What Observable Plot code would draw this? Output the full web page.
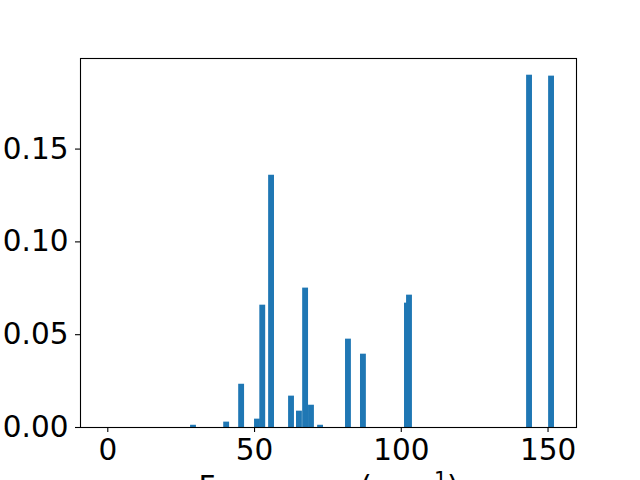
<!DOCTYPE html>
<html>
<head>
<meta charset="utf-8">
<script src="https://cdn.jsdelivr.net/npm/d3@7"></script>
<script src="https://cdn.jsdelivr.net/npm/@observablehq/plot@0.6"></script>
<style>
  html, body { margin: 0; padding: 0; background: white; }
  svg { display: block; }
</style>
</head>
<body>
<div id="chart"></div>
<script>
const freqs = [29.2, 40.5, 45.6, 51.0, 52.8, 55.8, 62.6, 65.3, 67.4, 69.4, 72.5, 82.0, 87.1, 102.1, 102.8, 143.7, 151.2];
const weights = [0.0012, 0.0029, 0.0233, 0.0045, 0.0659, 0.1359, 0.0169, 0.0088, 0.0751, 0.0120, 0.0012, 0.0476, 0.0395, 0.0670, 0.0713, 0.1898, 0.1893];
const xTicks = [0, 50, 100, 150];
const yTicks = [0, 0.05, 0.10, 0.15];
const xLabelMain = "Frequency (cm";
const xLabelSup = "−1";
const xLabelEnd = ")";

const barWidth = 2;
const data = freqs.map((f, i) => ({f, w: weights[i]}));

const chart = Plot.plot({
  width: 640,
  height: 480,
  marginLeft: 80,
  marginRight: 64,
  marginTop: 58,
  marginBottom: 53,
  x: {domain: [-9.3, 159.7]},
  y: {domain: [0, 0.1988]},
  style: {fontFamily: "DejaVu Sans", fontSize: "29.5px", color: "black", background: "white"},
  marks: [
    Plot.rectY(data, {x1: d => d.f - barWidth / 2, x2: d => d.f + barWidth / 2, y1: 0, y2: "w", fill: "#1f77b4"}),
    Plot.frame({stroke: "black", strokeWidth: 1.1}),
    Plot.axisX({ticks: xTicks, tickSize: 5, tickPadding: 7, fontSize: 29.5, tickFormat: d => String(d), label: xLabelMain + xLabelSup + xLabelEnd, labelAnchor: "center", labelArrow: "none", labelOffset: 69, strokeWidth: 1.1}),
    Plot.axisY({ticks: yTicks, tickSize: 5, tickPadding: 7, fontSize: 29.5, tickFormat: d => d.toFixed(2), label: null, strokeWidth: 1.1})
  ]
});
// render the exponent as a true superscript
const labelText = [...chart.querySelectorAll("text")].find(t => t.textContent === xLabelMain + xLabelSup + xLabelEnd);
if (labelText) {
  labelText.textContent = xLabelMain;
  const ns = "http://www.w3.org/2000/svg";
  const sup = document.createElementNS(ns, "tspan");
  sup.setAttribute("dy", "-0.45em");
  sup.setAttribute("font-size", "0.7em");
  sup.textContent = xLabelSup;
  const end = document.createElementNS(ns, "tspan");
  end.setAttribute("dy", "0.315em");
  end.textContent = xLabelEnd;
  labelText.appendChild(sup);
  labelText.appendChild(end);
}
document.getElementById("chart").appendChild(chart);
</script>
</body>
</html>
